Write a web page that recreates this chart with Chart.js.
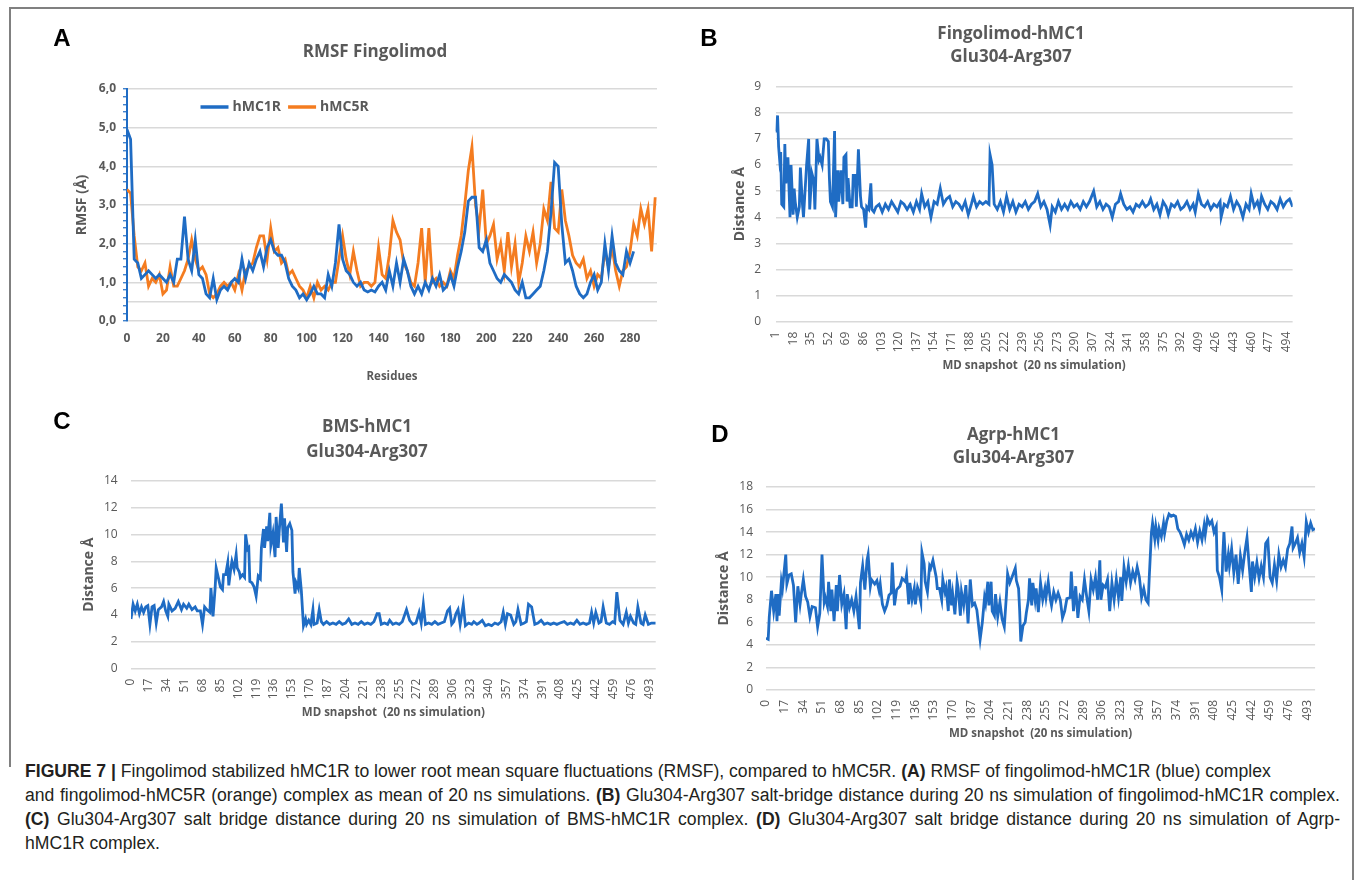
<!DOCTYPE html>
<html>
<head>
<meta charset="utf-8">
<title>Figure 7</title>
<script src="https://cdn.jsdelivr.net/npm/chart.js@4.4.0/dist/chart.umd.min.js"></script>
<style>
body { margin:0; background:#fff; width:1355px; height:880px; position:relative; overflow:hidden; font-family:"Liberation Sans", Arial, sans-serif; }
canvas { position:absolute; }
.frame-top { position:absolute; left:9px; top:7px; width:1345px; border-top:2px solid #808080; }
.frame-left { position:absolute; left:9px; top:7px; height:760px; border-left:2px solid #808080; }
.frame-right { position:absolute; left:1352px; top:7px; height:873px; border-left:2px solid #808080; }
.letter { position:absolute; font:bold 24px "Liberation Sans", Arial, sans-serif; color:#000; line-height:24px; transform:translate(-50%,-50%); }
.cap { position:absolute; left:25px; width:1315px; font-size:17.6px; color:#231f20; line-height:24px; white-space:nowrap; }
.just { text-align:justify; text-align-last:justify; }
</style>
</head>
<body>
<div class="frame-top"></div>
<div class="frame-left"></div>
<div class="frame-right"></div>

<canvas id="chartA" width="652" height="375" style="left:20px;top:20px"></canvas>
<canvas id="chartB" width="611" height="370" style="left:700px;top:10px"></canvas>
<canvas id="chartC" width="654" height="333" style="left:20px;top:395px"></canvas>
<canvas id="chartD" width="642" height="345" style="left:690px;top:405px"></canvas>

<div class="letter" style="left:62px;top:38px">A</div>
<div class="letter" style="left:709px;top:38px">B</div>
<div class="letter" style="left:62px;top:421px">C</div>
<div class="letter" style="left:720px;top:434px">D</div>

<div class="cap" style="top:759px"><b>FIGURE 7 |</b> Fingolimod stabilized hMC1R to lower root mean square fluctuations (RMSF), compared to hMC5R. <b>(A)</b> RMSF of fingolimod-hMC1R (blue) complex</div>
<div class="cap just" style="top:783px">and fingolimod-hMC5R (orange) complex as mean of 20 ns simulations. <b>(B)</b> Glu304-Arg307 salt-bridge distance during 20 ns simulation of fingolimod-hMC1R complex.</div>
<div class="cap just" style="top:807px"><b>(C)</b> Glu304-Arg307 salt bridge distance during 20 ns simulation of BMS-hMC1R complex. <b>(D)</b> Glu304-Arg307 salt bridge distance during 20 ns simulation of Agrp-</div>
<div class="cap" style="top:831px">hMC1R complex.</div>

<script>
// ---- data ----

// A: RMSF per residue, [residue, RMSF Å]
const hmc1rA = [[0,4.95],[2,4.7],[4,1.6],[6,1.5],[8,1.1],[10,1.2],[12,1.3],[14,1.2],[16,1.1],[18,1.2],[20,1.1],[22,1.0],[24,1.2],[26,1.0],[28,1.6],[30,1.6],[32,2.7],[34,1.6],[36,1.3],[38,2.1],[40,1.2],[42,1.1],[44,0.7],[46,0.6],[48,1.1],[50,0.55],[52,0.8],[54,0.9],[56,0.8],[58,1.0],[60,1.1],[62,1.0],[64,1.6],[66,1.1],[68,1.5],[70,1.3],[72,1.6],[74,1.8],[76,1.4],[78,1.9],[80,2.1],[82,1.8],[84,1.7],[86,1.7],[88,1.5],[90,1.1],[92,0.9],[94,0.8],[96,0.6],[98,0.7],[100,0.55],[102,0.7],[104,0.9],[106,0.7],[108,0.7],[110,0.6],[112,1.2],[114,0.9],[116,1.5],[118,2.5],[120,1.6],[122,1.3],[124,1.2],[126,1.0],[128,0.9],[130,1.0],[132,0.8],[134,0.75],[136,0.8],[138,0.75],[140,0.9],[142,1.0],[144,0.8],[146,1.3],[148,0.9],[150,1.5],[152,1.0],[154,1.6],[156,1.3],[158,0.9],[160,0.7],[162,0.9],[164,0.7],[166,1.0],[168,0.8],[170,1.1],[172,0.9],[174,1.2],[176,0.8],[178,0.9],[180,1.2],[182,0.9],[184,1.4],[186,1.8],[188,2.3],[190,3.1],[192,3.2],[194,3.2],[196,1.9],[198,1.8],[200,2.1],[202,1.5],[204,1.3],[206,1.1],[208,1.0],[210,1.2],[212,1.1],[214,1.0],[216,0.8],[218,0.7],[220,1.0],[222,0.6],[224,0.6],[226,0.7],[228,0.8],[230,0.9],[232,1.3],[234,1.8],[236,2.8],[238,4.1],[240,4.0],[242,2.5],[244,1.5],[246,1.6],[248,1.3],[250,0.9],[252,0.7],[254,0.6],[256,0.7],[258,1.0],[260,1.2],[262,0.8],[264,1.0],[266,2.0],[268,1.3],[270,2.2],[272,1.5],[274,1.3],[276,1.2],[278,1.8],[280,1.5],[282,1.8]];

const hmc5rA = [[0,3.4],[2,3.3],[4,2.2],[6,1.4],[8,1.3],[10,1.5],[12,0.9],[14,1.1],[16,1.0],[18,1.2],[20,0.7],[22,0.8],[24,1.4],[26,0.9],[28,0.9],[30,1.1],[32,1.3],[34,1.6],[36,2.1],[38,1.6],[40,1.3],[42,1.4],[44,1.2],[46,0.7],[48,0.6],[50,0.7],[52,0.9],[54,1.0],[56,0.9],[58,1.0],[60,0.8],[62,1.2],[64,0.8],[66,1.3],[68,1.4],[70,1.5],[72,1.9],[74,2.2],[76,2.2],[78,1.6],[80,2.4],[82,1.8],[84,1.9],[86,1.5],[88,1.6],[90,1.2],[92,1.3],[94,1.1],[96,0.9],[98,0.8],[100,0.6],[102,0.9],[104,0.6],[106,1.0],[108,0.8],[110,0.9],[112,0.8],[114,1.0],[116,1.0],[118,1.6],[120,2.2],[122,1.6],[124,1.2],[126,1.8],[128,1.3],[130,0.9],[132,1.0],[134,1.0],[136,0.9],[138,1.0],[140,1.9],[142,1.2],[144,1.1],[146,1.7],[148,2.6],[150,2.3],[152,2.1],[154,1.5],[156,1.3],[158,1.0],[160,0.9],[162,1.5],[164,2.4],[166,1.0],[168,2.4],[170,1.0],[172,1.1],[174,0.9],[176,1.0],[178,0.9],[180,1.3],[182,1.1],[184,1.7],[186,2.2],[188,3.0],[190,3.9],[192,4.5],[194,3.0],[196,2.4],[198,3.4],[200,2.0],[202,2.2],[204,2.5],[206,1.6],[208,2.0],[210,1.3],[212,2.3],[214,1.4],[216,2.0],[218,1.0],[220,1.5],[222,2.2],[224,1.8],[226,2.3],[228,1.5],[230,2.0],[232,2.9],[234,2.6],[236,3.6],[238,2.4],[240,2.3],[242,3.4],[244,2.6],[246,2.2],[248,1.7],[250,1.5],[252,1.4],[254,1.6],[256,1.1],[258,1.3],[260,0.9],[262,1.2],[264,1.1],[266,1.8],[268,1.4],[270,1.9],[272,1.3],[274,0.9],[276,1.3],[278,1.4],[280,1.8],[282,2.5],[284,2.2],[286,2.9],[288,2.5],[290,2.9],[292,1.8],[294,3.2]];

const residueTicksA = [0,20,40,60,80,100,120,140,160,180,200,220,240,260,280];

// B: Fingolimod-hMC1, [snapshot, distance Å]
const distB = [[1,7.3],[2,7.3],[3,7.9],[4,6.7],[5,6.2],[6,6.5],[7,4.5],[9,4.4],[10,6.8],[11,5.3],[13,6.3],[15,4.0],[16,6.0],[18,4.1],[19,5.1],[20,4.6],[22,4.0],[24,4.4],[25,5.9],[27,4.5],[28,4.0],[31,6.0],[33,7.0],[34,4.3],[36,5.7],[38,5.4],[39,4.3],[41,7.0],[43,6.2],[44,6.3],[46,6.0],[48,7.0],[50,7.0],[52,6.9],[53,5.5],[54,4.6],[56,4.4],[58,7.3],[59,4.0],[61,5.8],[62,4.6],[64,5.8],[66,4.5],[67,6.3],[69,6.4],[70,4.6],[71,5.5],[73,4.4],[75,4.4],[76,5.6],[78,5.6],[79,4.4],[81,6.6],[83,4.8],[84,4.4],[86,4.3],[88,3.6],[89,4.4],[91,4.3],[93,5.3],[94,4.3],[96,4.2],
  [98,4.4],[101,4.5],[104,4.2],[107,4.5],[110,4.3],[113,4.6],[116,4.4],[119,4.2],[122,4.6],[125,4.5],[128,4.3],[131,4.5],[134,4.2],[137,4.6],[140,4.3],[142,4.9],[145,4.4],[148,4.6],[151,4.0],[154,4.6],[157,4.5],[160,5.1],[163,4.5],[166,4.7],[169,4.8],[172,4.4],[175,4.6],[178,4.5],[181,4.3],[184,4.6],[187,4.1],[190,4.5],[192,4.8],[195,4.4],[198,4.6],[201,4.5],[204,4.6],[207,4.5],[208,6.4],[210,6.0],[212,4.5],[215,4.3],[218,4.6],[221,4.2],[224,4.8],[227,4.3],[230,4.6],[233,4.2],[236,4.5],[239,4.4],[242,4.6],[245,4.3],[248,4.5],[251,4.6],[254,4.9],[257,4.4],[260,4.6],[263,4.3],[266,3.7],[268,4.4],[271,4.2],[274,4.6],[277,4.3],[280,4.5],[283,4.3],[286,4.6],[289,4.4],[292,4.5],[295,4.3],[298,4.6],[301,4.4],[304,4.6],[308,5.0],[311,4.4],[314,4.6],[317,4.3],[320,4.5],[323,4.4],[326,4.0],[329,4.5],[332,4.6],[334,4.9],[337,4.5],[340,4.3],[343,4.4],[346,4.2],[349,4.5],[352,4.4],[355,4.6],[358,4.4],[361,4.5],[363,4.7],[366,4.3],[369,4.5],[372,4.1],[375,4.6],[378,4.4],[380,4.1],[383,4.5],[386,4.4],[389,4.6],[392,4.3],[395,4.4],[398,4.6],[401,4.3],[404,4.5],[406,4.2],[409,4.9],[412,4.5],[415,4.4],[418,4.6],[421,4.3],[424,4.5],[427,4.4],[430,4.6],[431,4.0],[434,4.5],[437,4.4],[440,4.8],[443,4.3],[446,4.6],[449,4.4],[452,4.0],[455,4.5],[458,4.3],[460,4.9],[463,4.4],[466,4.6],[468,4.3],[470,4.8],[473,4.5],[476,4.3],[479,4.6],[482,4.5],[485,4.3],[488,4.7],[491,4.4],[494,4.6],[497,4.7],[500,4.4]];

const snapTicksB = [1,18,35,52,69,86,103,120,137,154,171,188,205,222,239,256,273,290,307,324,341,358,375,392,409,426,443,460,477,494];

// C: BMS-hMC1
const distC = [[0,3.7],[2,4.8],[4,4.3],[6,4.8],[8,4.1],[10,4.6],[12,4.2],[14,4.6],[16,4.7],[18,3.3],[20,4.6],[22,4.7],[24,3.4],[26,4.4],[29,4.6],[31,5.0],[33,4.3],[35,3.9],[36,4.8],[39,4.3],[42,4.5],[45,5.0],[48,4.4],[50,4.8],[53,4.5],[55,4.8],[58,4.4],[61,4.6],[63,4.3],[66,4.3],[68,3.3],[70,4.6],[72,4.4],[75,4.2],[76,6.0],[78,3.9],[80,6.0],[81,7.5],[83,6.8],[85,6.1],[87,5.9],[88,7.0],[90,7.0],[92,7.9],[93,6.2],[95,7.5],[96,8.0],[98,7.4],[100,8.5],[101,7.5],[103,7.2],[104,6.8],[106,7.0],[108,6.8],[109,10.0],[111,8.9],[112,9.0],[113,6.5],[115,6.4],[117,6.1],[119,5.4],[121,6.9],[123,6.7],[124,9.0],[126,10.4],[127,9.0],[129,10.6],[130,9.5],[132,11.6],[133,9.2],[135,10.1],[137,8.3],[138,11.3],[140,9.0],[141,10.3],[143,12.3],[145,9.4],[146,11.2],[148,8.7],[149,10.5],[151,10.8],[153,10.3],[154,7.2],[156,5.6],[157,6.4],[159,6.0],[160,7.5],[162,5.8],[164,3.2],[166,3.7],[167,3.3],[169,3.6],[171,3.3],[173,4.4],[174,3.3],[177,3.4],[179,4.4],[181,3.5],
  [183,3.3],[186,3.5],[189,3.3],[192,3.4],[195,3.3],[198,3.5],[201,3.3],[204,3.4],[207,3.7],[210,3.3],[213,3.4],[216,3.3],[219,3.5],[222,3.3],[225,3.4],[228,3.3],[231,3.5],[234,4.1],[236,4.1],[238,3.3],[241,3.4],[244,3.3],[246,3.6],[249,3.3],[252,3.4],[255,3.3],[258,3.5],[262,4.4],[265,3.6],[268,3.3],[271,3.4],[274,4.2],[276,3.4],[278,4.8],[280,3.3],[283,3.4],[286,3.3],[289,3.5],[292,3.3],[295,3.4],[298,3.5],[301,4.3],[303,4.5],[305,3.3],[307,3.5],[309,4.1],[311,4.4],[313,3.3],[316,4.8],[318,3.2],[321,3.4],[324,3.3],[326,3.5],[329,3.3],[331,3.4],[334,3.6],[337,3.2],[340,3.3],[343,3.2],[346,3.4],[349,3.3],[352,3.5],[354,4.2],[356,3.3],[358,4.1],[361,4.0],[364,3.3],[366,3.5],[368,4.4],[371,3.3],[374,3.4],[376,3.5],[378,4.8],[381,4.6],[384,3.3],[387,3.4],[390,3.6],[393,3.3],[396,3.4],[399,3.3],[402,3.4],[405,3.3],[408,3.4],[412,3.5],[415,3.3],[418,3.4],[421,3.3],[424,3.6],[427,3.3],[430,3.4],[433,3.3],[436,3.4],[438,4.2],[440,3.4],[442,4.2],[445,3.4],[447,3.5],[449,4.6],[452,3.4],[455,3.3],[458,3.5],[460,3.4],[462,5.7],[465,3.6],[468,3.3],[471,4.2],[473,3.4],[475,3.9],[478,3.4],[480,3.3],[482,4.6],[485,3.4],[487,3.3],[489,4.0],[492,3.3],[495,3.4],[499,3.4]];

// D: Agrp-hMC1
const distD = [[0,4.6],[2,4.5],[3,6.5],[5,8.8],[7,7.0],[9,8.5],[10,6.1],[11,8.5],[12,6.6],[14,9.6],[15,9.0],[18,12.0],[19,9.4],[21,10.2],[23,10.3],[25,9.3],[27,6.0],[29,9.2],[31,7.6],[32,8.4],[34,9.8],[36,8.3],[38,7.8],[40,6.5],[42,7.4],[45,7.3],[47,5.6],[49,6.8],[51,12.0],[53,7.8],[54,8.2],[56,7.4],[57,9.6],[59,7.0],[60,8.9],[62,6.1],[64,9.3],[65,7.0],[67,10.2],[69,7.6],[71,8.5],[73,5.4],[74,8.5],[76,7.3],[78,8.0],[80,7.0],[82,8.3],[85,5.4],[86,9.5],[88,11.0],[90,8.9],[92,11.5],[93,12.0],[95,9.2],[96,9.8],[99,9.4],[101,9.7],[103,8.8],[104,9.4],[106,7.6],[108,7.0],[110,7.5],[112,8.4],[114,8.6],[115,11.3],[117,7.5],[119,8.9],[122,9.2],[124,9.9],[127,9.6],[128,10.2],[130,7.6],[131,9.5],[133,8.0],[135,9.0],[136,7.6],[138,9.1],[139,8.8],[141,7.8],[142,12.2],[144,11.2],[145,9.6],[147,8.7],[149,11.0],[150,10.8],[152,11.5],[153,11.0],[155,10.0],[156,9.0],[158,9.0],[160,8.0],[161,9.8],[163,8.7],[164,9.1],[166,7.0],[167,9.8],[169,7.5],[170,8.5],[172,6.7],[174,9.6],[175,9.0],[177,6.6],[178,8.7],[180,7.5],[182,9.3],[184,5.9],[186,9.8],[188,7.5],[190,7.7],[192,7.1],[195,4.5],[197,6.0],[199,8.2],[200,7.7],[202,9.6],[203,7.5],[205,9.6],[206,7.0],[208,6.6],[209,8.5],[211,6.5],[213,7.8],[215,6.3],[217,5.6],[219,8.5],[220,10.3],[222,9.5],[224,10.0],[227,10.8],[228,9.7],[230,9.0],[231,7.0],[232,4.3],[234,5.7],[236,6.0],[237,6.8],[239,8.0],[240,9.9],[242,7.5],[243,9.5],[245,8.0],[246,9.0],[248,6.9],[250,9.5],[252,8.0],[254,9.0],[255,8.2],[257,9.6],[259,8.0],[260,7.5],[262,8.7],[264,8.0],[266,8.6],[268,8.0],[270,6.4],[272,7.0],[274,8.1],[277,8.2],[278,10.5],[280,7.0],[282,9.2],[284,6.4],[286,8.3],[288,8.0],[290,9.8],[292,8.3],[294,7.0],[296,9.8],[298,8.9],[300,10.0],[302,8.0],[304,11.5],[305,8.0],[307,9.3],[309,9.1],[311,9.8],[313,7.0],[315,9.5],[317,8.0],[319,9.8],[321,8.2],[323,10.0],[324,7.9],[326,10.9],[328,9.6],[330,11.0],[332,9.5],[334,10.5],[336,9.8],[338,10.9],[340,10.0],[342,8.2],[344,9.0],[346,8.0],[348,7.7],[349,10.0],[351,14.0],[352,14.8],[354,13.4],[355,14.5],[357,13.3],[358,14.3],[360,13.6],[362,14.8],[363,13.9],[365,15.0],[367,15.6],[369,15.4],[371,15.5],[373,15.4],[375,14.3],[377,14.0],[379,13.5],[381,12.9],[383,13.8],[385,13.3],[387,14.0],[389,13.5],[391,14.3],[393,13.1],[395,14.1],[397,13.3],[399,14.6],[400,13.8],[402,15.2],[404,14.7],[406,15.0],[408,14.0],[410,14.5],[411,10.6],[413,10.0],[415,8.9],[416,12.0],[417,14.0],[419,10.5],[421,12.0],[422,11.0],[424,12.5],[426,10.4],[428,12.0],[430,9.4],[432,11.9],[434,10.6],[436,12.2],[438,13.5],[440,11.0],[442,8.7],[443,11.4],[445,10.0],[447,11.3],[449,9.9],[451,11.0],[453,10.0],[455,13.0],[457,13.3],[459,10.0],[461,9.5],[463,11.1],[465,9.7],[467,12.0],[469,10.9],[471,11.5],[473,10.9],[475,12.5],[477,13.0],[479,14.5],[480,12.6],[482,13.0],[484,13.5],[486,12.2],[488,13.0],[490,11.8],[492,14.9],[494,14.0],[496,14.8],[498,14.2],[500,14.3]];

const snapTicksCD = [0,17,34,51,68,85,102,119,136,153,170,187,204,221,238,255,272,289,306,323,340,357,374,391,408,425,442,459,476,493];

// ---- styling ----
const blue = '#1f6cc4';
const orange = '#f47c20';
const gridGray = '#d9d9d9';
const textGray = '#595959';
const fontFam = '"Open Sans", "Noto Sans", sans-serif';

Chart.defaults.font.family = fontFam;
Chart.defaults.color = textGray;

function toXY(pairs) {
  return pairs.map(p => ({ x: p[0], y: p[1] }));
}

// legend drawn inside the plot area, like the Excel original
const insideLegend = {
  id: 'insideLegend',
  afterDatasetsDraw(chart, args, opts) {
    const ctx = chart.ctx;
    const area = chart.chartArea;
    let x = area.left + opts.offsetX;
    const y = area.top + opts.offsetY;
    ctx.save();
    ctx.font = 'bold 14px ' + fontFam;
    ctx.textBaseline = 'middle';
    chart.data.datasets.forEach(ds => {
      ctx.strokeStyle = ds.borderColor;
      ctx.lineWidth = 3.5;
      ctx.beginPath();
      ctx.moveTo(x, y);
      ctx.lineTo(x + opts.lineLen, y);
      ctx.stroke();
      x += opts.lineLen + 4;
      ctx.fillStyle = textGray;
      ctx.fillText(ds.label, x, y);
      x += ctx.measureText(ds.label).width + 7;
    });
    ctx.restore();
  }
};

// ---- A: RMSF ----
const rmsfTickVals = [];
for (let i = 0; i <= 30; i++) rmsfTickVals.push(i / 5);
rmsfTickVals.push(0.5);
rmsfTickVals.sort((a, b) => a - b);
const isMajor = v => Math.abs(v - Math.round(v)) < 1e-6;

new Chart(document.getElementById('chartA'), {
  type: 'line',
  data: {
    datasets: [
      { label: 'hMC1R', data: toXY(hmc1rA), borderColor: blue, borderWidth: 2.8, pointRadius: 0, tension: 0 },
      { label: 'hMC5R', data: toXY(hmc5rA), borderColor: orange, borderWidth: 2.8, pointRadius: 0, tension: 0 }
    ]
  },
  options: {
    responsive: false,
    animation: false,
    layout: { padding: { left: 73, right: 15, top: 0, bottom: 0 } },
    plugins: {
      legend: { display: false },
      tooltip: { enabled: false },
      title: {
        display: true, text: 'RMSF Fingolimod', color: textGray,
        font: { size: 17, weight: 'bold', lineHeight: 1.2 },
        padding: { top: 21.8, bottom: 26.8 }
      },
      insideLegend: { offsetX: 73.5, offsetY: 18, lineLen: 28 }
    },
    scales: {
      x: {
        type: 'linear', min: 0, max: 295,
        afterBuildTicks: s => { s.ticks = residueTicksA.map(v => ({ value: v })); },
        afterFit: s => { s.height = 74; },
        grid: { display: false, drawTicks: false },
        border: { display: false },
        ticks: { autoSkip: false, maxRotation: 0, padding: 10.8, color: textGray, font: { size: 12, weight: 'bold' } },
        title: { display: true, text: 'Residues', color: textGray, font: { size: 11.5, weight: 'bold' }, padding: { top: 0, bottom: 11.1 } }
      },
      y: {
        min: 0, max: 6,
        afterBuildTicks: s => { s.ticks = rmsfTickVals.map(v => ({ value: v })); },
        afterFit: s => { s.width = 34; },
        ticks: {
          autoSkip: false, padding: 7, color: textGray, font: { size: 12, weight: 'bold' },
          callback: v => isMajor(v) ? v.toFixed(1).replace('.', ',') : ''
        },
        grid: {
          lineWidth: 1.5, drawTicks: true, tickLength: 4, tickWidth: 1.2,
          color: c => (isMajor(c.tick.value) || Math.abs(c.tick.value - 0.5) < 1e-6) ? gridGray : 'rgba(0,0,0,0)',
          tickColor: c => Math.abs(c.tick.value - 0.5) < 1e-6 ? 'rgba(0,0,0,0)' : blue
        },
        border: { display: true, color: blue, width: 2 },
        title: { display: true, text: 'RMSF (Å)', color: textGray, font: { size: 14, weight: 'bold' }, padding: { top: -19.4, bottom: 0 } }
      }
    }
  },
  plugins: [insideLegend]
});

// ---- B, C, D: salt-bridge distance ----
function distanceChart(id, cfg) {
  return new Chart(document.getElementById(id), {
    type: 'line',
    data: {
      datasets: [{ label: 'Distance', data: toXY(cfg.data), borderColor: blue, borderWidth: 2.8, pointRadius: 0, tension: 0 }]
    },
    options: {
      responsive: false,
      animation: false,
      layout: { padding: { left: cfg.padL, right: 15, top: 0, bottom: 0 } },
      plugins: {
        legend: { display: false },
        tooltip: { enabled: false },
        title: {
          display: true, text: cfg.title, color: textGray,
          font: { size: 17, weight: 'bold', lineHeight: cfg.titleLH },
          padding: { top: cfg.titleTop, bottom: cfg.titleBottom }
        }
      },
      scales: {
        x: {
          type: 'linear', min: cfg.xMin, max: cfg.xMax,
          afterBuildTicks: s => { s.ticks = cfg.xTicks.map(v => ({ value: v })); },
          afterFit: s => { s.height = cfg.xHeight; },
          grid: { display: false, drawTicks: false },
          border: { display: false },
          ticks: { autoSkip: false, minRotation: 90, maxRotation: 90, padding: 10, color: textGray, font: { size: 12 } },
          title: { display: true, text: 'MD snapshot  (20 ns simulation)', color: textGray, font: { size: 11.5, weight: 'bold' }, padding: { top: 0, bottom: cfg.xTitleBottom } }
        },
        y: {
          min: 0, max: cfg.yMax,
          afterFit: s => { s.width = cfg.yWidth; },
          ticks: { stepSize: cfg.yStep, padding: cfg.yPad, color: textGray, font: { size: 12 } },
          grid: { color: gridGray, lineWidth: 1.5, drawTicks: false },
          border: { display: false },
          title: { display: true, text: 'Distance Å', color: textGray, font: { size: 14, weight: 'bold' }, padding: { top: cfg.yTitlePad, bottom: 0 } }
        }
      }
    }
  });
}

distanceChart('chartB', {
  data: distB, title: ['Fingolimod-hMC1', 'Glu304-Arg307'],
  xMin: 1, xMax: 500, xTicks: snapTicksB, yMax: 9, yStep: 1,
  padL: 26, yWidth: 49.5, yPad: 14.5, yTitlePad: 5.6,
  titleLH: 1.353, titleTop: 12.5, titleBottom: 18.2,
  xHeight: 58.3, xTitleBottom: 7.1
});

distanceChart('chartC', {
  data: distC, title: ['BMS-hMC1', 'Glu304-Arg307'],
  xMin: 0, xMax: 499, xTicks: snapTicksCD, yMax: 14, yStep: 2,
  padL: 55, yWidth: 56, yPad: 13.4, yTitlePad: 5.6,
  titleLH: 1.47, titleTop: 19.5, titleBottom: 16.2,
  xHeight: 59.3, xTitleBottom: 8.1
});

distanceChart('chartD', {
  data: distD, title: ['Agrp-hMC1', 'Glu304-Arg307'],
  xMin: 0, xMax: 500, xTicks: snapTicksCD, yMax: 18, yStep: 2,
  padL: 20, yWidth: 56, yPad: 13, yTitlePad: 5.6,
  titleLH: 1.353, titleTop: 18.5, titleBottom: 17.5,
  xHeight: 60, xTitleBottom: 9.1
});
</script>
</body>
</html>
